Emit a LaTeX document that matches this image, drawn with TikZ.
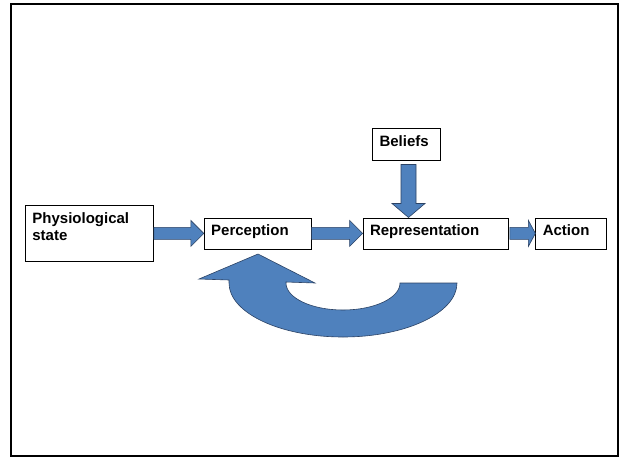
\documentclass[tikz,border=0pt]{standalone}
\usepackage{fontspec}
\setmainfont{Liberation Sans}
\usetikzlibrary{positioning, calc}

\definecolor{arrowblue}{HTML}{4F81BD}
\definecolor{arrowedge}{HTML}{2B4264}

\begin{document}
\begin{tikzpicture}[x=1pt, y=-1pt,
        box/.style={draw=black, line width=0.8pt, inner xsep=7pt, inner ysep=0pt,
            align=left, text height=18pt, text depth=13pt,
            font=\fontsize{15}{17}\selectfont\bfseries},
        barrow/.style={fill=arrowblue, draw=arrowedge, line width=0.6pt, line join=miter}]
        \useasboundingbox (0,0) rectangle (624,459);
        \draw[line width=2.6pt] (11,4) rectangle (618,456);

        \node[box, anchor=north west, text width=114pt, text depth=38pt] (phys) at (25,205) {Physiological\\state};
        \node[box, text width=93pt, right=50pt of phys] (perc) {Perception};
        \node[box, text width=131pt, right=51pt of perc] (rep) {Representation};
        \node[box, text width=57pt, right=27pt of rep] (act) {Action};
        \node[box, text width=54pt, text height=18.5pt, text depth=13.5pt, above=57pt of rep, xshift=-29pt] (bel) {Beliefs};

        % block arrows
        \draw[barrow] ($(phys.east)+(0,6)$) -- ($(perc.west)+(-13,6)$) -- ($(perc.west)+(-13,13)$) -- (perc.west)
            -- ($(perc.west)+(-13,-13)$) -- ($(perc.west)+(-13,-6)$) -- ($(phys.east)+(0,-6)$) -- cycle;
        \draw[barrow] ($(perc.east)+(0,6)$) -- ($(rep.west)+(-13,6)$) -- ($(rep.west)+(-13,13)$) -- (rep.west)
            -- ($(rep.west)+(-13,-13)$) -- ($(rep.west)+(-13,-6)$) -- ($(perc.east)+(0,-6)$) -- cycle;
        \draw[barrow] ($(rep.east)+(1.5,6)$) -- ($(act.west)+(-7,6)$) -- ($(act.west)+(-7,13)$) -- (act.west)
            -- ($(act.west)+(-7,-13)$) -- ($(act.west)+(-7,-6)$) -- ($(rep.east)+(1.5,-6)$) -- cycle;

        \coordinate (btop) at ($(bel.south)+(2,4)$);
        \coordinate (btip) at (btop |- rep.north);
        \draw[barrow] ($(btop)+(-7.5,0)$) -- ($(btip)+(-7.5,-14)$) -- ($(btip)+(-16.5,-14)$) -- (btip)
            -- ($(btip)+(16.5,-14)$) -- ($(btip)+(7.5,-14)$) -- ($(btop)+(7.5,0)$) -- cycle;

        % feedback loop
        \coordinate (loop) at (343,283);
        \draw[barrow] ($(loop)+(114,0)$) arc[start angle=0, end angle=180, x radius=114, y radius=54]
            -- (229,280) -- (199,279) -- (258,254) -- (315,283) -- (286,282)
            -- ($(loop)+(-57,0)$) arc[start angle=180, end angle=0, x radius=57, y radius=27] -- cycle;
\end{tikzpicture}
\end{document}
